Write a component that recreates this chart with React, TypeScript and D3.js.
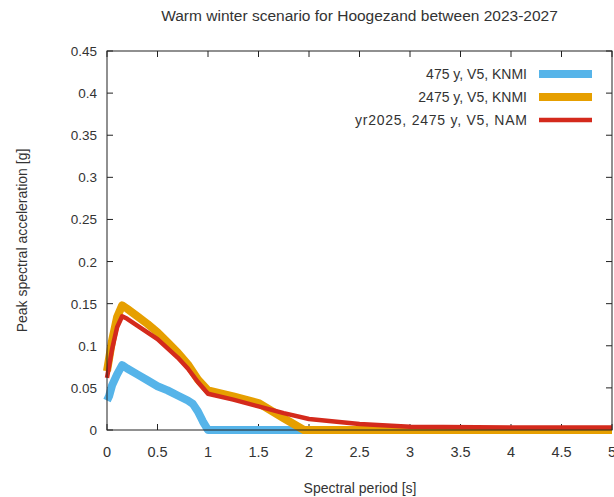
import React from "react";
import * as d3 from "d3";

const title = "Warm winter scenario for Hoogezand between 2023-2027";
const xLabel = "Spectral period [s]";
const yLabel = "Peak spectral acceleration [g]";
const xTicks = [0, 0.5, 1, 1.5, 2, 2.5, 3, 3.5, 4, 4.5, 5];
const yTicks = [0, 0.05, 0.1, 0.15, 0.2, 0.25, 0.3, 0.35, 0.4, 0.45];

const blueT = [0, 0.02, 0.05, 0.1, 0.15, 0.2, 0.3, 0.4, 0.5, 0.6, 0.7, 0.8, 0.85, 0.9, 0.95, 1.0, 5];
const blueV = [0.035, 0.04, 0.053, 0.066, 0.077, 0.073, 0.066, 0.059, 0.052, 0.047, 0.041, 0.035, 0.031, 0.022, 0.01, 0, 0];

const orangeT = [0, 0.05, 0.1, 0.15, 0.2, 0.3, 0.4, 0.5, 0.6, 0.7, 0.8, 0.9, 1.0, 1.25, 1.5, 1.75, 1.95, 5];
const orangeV = [0.07, 0.106, 0.134, 0.148, 0.144, 0.135, 0.126, 0.116, 0.104, 0.092, 0.078, 0.06, 0.047, 0.04, 0.032, 0.014, 0, 0];

const redT = [0, 0.05, 0.1, 0.15, 0.2, 0.3, 0.4, 0.5, 0.6, 0.7, 0.8, 0.9, 1.0, 1.25, 1.5, 1.75, 2.0, 2.5, 3, 4, 5];
const redV = [0.062, 0.096, 0.122, 0.135, 0.132, 0.124, 0.116, 0.108, 0.097, 0.086, 0.073, 0.057, 0.043, 0.036, 0.028, 0.02, 0.013, 0.007, 0.004, 0.003, 0.003];

const seriesNames = ["475 y, V5, KNMI", "2475 y, V5, KNMI", "yr2025, 2475 y, V5, NAM"];
const seriesColors = ["#56b4e9", "#e69f00", "#d42a1c"];
const seriesWidths = [8, 8, 4.5];

export default function App() {
  const W = 614, H = 497;
  const left = 107, right = 612, top = 51, bottom = 430;
  const x = d3.scaleLinear().domain([0, 5]).range([left, right]);
  const y = d3.scaleLinear().domain([0, 0.45]).range([bottom, top]);
  const line = d3.line<[number, number]>().x(d => x(d[0])).y(d => y(d[1]));
  const series = [
    d3.zip(blueT, blueV) as [number, number][],
    d3.zip(orangeT, orangeV) as [number, number][],
    d3.zip(redT, redV) as [number, number][],
  ];
  const font = "Liberation Sans, Arial, sans-serif";
  const textColor = "#333";
  const tickLen = 6;
  return (
    <svg width={W} height={H} style={{ position: "absolute", left: 0, top: 0, background: "#fff" }} fontFamily={font}>
      <rect x={0} y={0} width={W} height={H} fill="#fff" />
      <text x={(left + right) / 2} y={21} textAnchor="middle" fontSize={15.5} fill={textColor}>{title}</text>
      {yTicks.map(t => (
        <g key={"y" + t}>
          <line x1={left} x2={left + tickLen} y1={y(t)} y2={y(t)} stroke="#222" />
          <line x1={right} x2={right - tickLen} y1={y(t)} y2={y(t)} stroke="#222" />
          <text x={97} y={y(t) + 5} textAnchor="end" fontSize={13.5} fill={textColor}>{String(t)}</text>
        </g>
      ))}
      {xTicks.map(t => (
        <g key={"x" + t}>
          <line x1={x(t)} x2={x(t)} y1={bottom} y2={bottom - tickLen} stroke="#222" />
          <line x1={x(t)} x2={x(t)} y1={top} y2={top + tickLen} stroke="#222" />
          <text x={x(t)} y={457} textAnchor="middle" fontSize={14.5} fill={textColor}>{String(t)}</text>
        </g>
      ))}
      {series.map((s, i) => (
        <path key={i} d={line(s) || ""} fill="none" stroke={seriesColors[i]} strokeWidth={seriesWidths[i]} strokeLinejoin="round" />
      ))}
      <rect x={left} y={top} width={right - left} height={bottom - top} fill="none" stroke="#222" strokeWidth={1} />
      {seriesNames.map((n, i) => {
        const ly = 74 + i * 23;
        return (
          <g key={n}>
            <text x={527} y={ly + 5} textAnchor="end" fontSize={14} fill={textColor}
              textLength={i === 2 ? 172 : undefined} lengthAdjust="spacing">{n}</text>
            <line x1={539} x2={592} y1={ly} y2={ly} stroke={seriesColors[i]} strokeWidth={seriesWidths[i]} />
          </g>
        );
      })}
      <text x={360} y={493} textAnchor="middle" fontSize={14} fill={textColor}>{xLabel}</text>
      <text transform={`translate(27,${(top + bottom) / 2}) rotate(-90)`} textAnchor="middle" fontSize={14} fill={textColor}>{yLabel}</text>
    </svg>
  );
}
